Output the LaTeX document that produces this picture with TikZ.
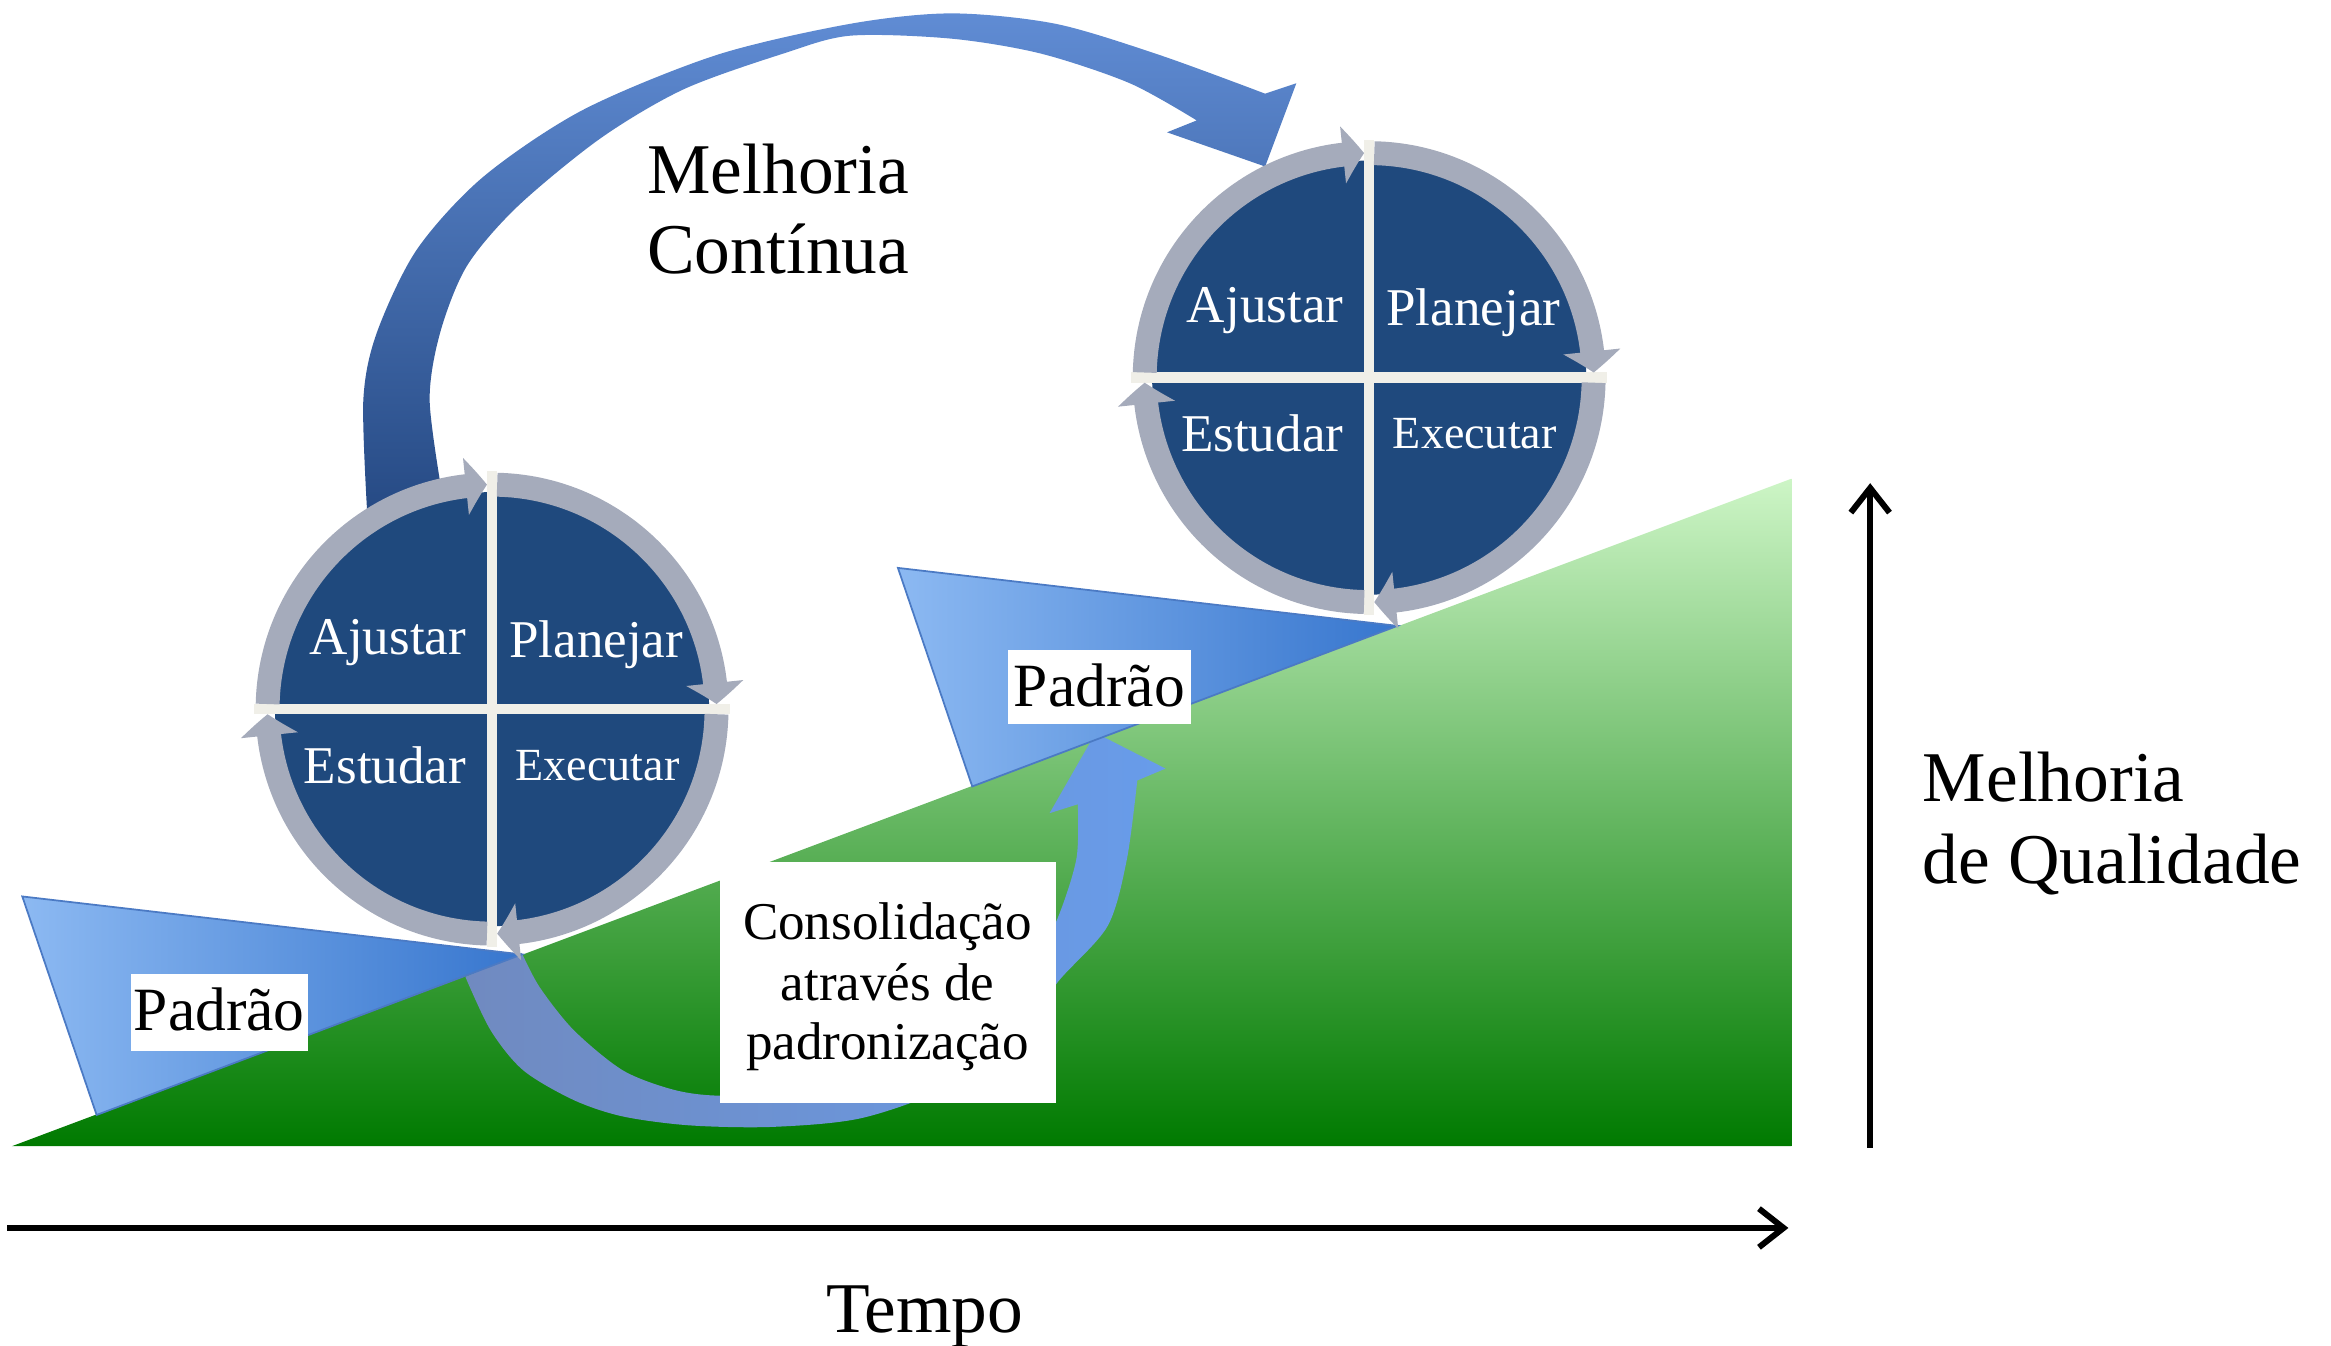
\documentclass[tikz,border=0pt]{standalone}
\usepackage{fontspec}
\setmainfont{Liberation Serif}
\usetikzlibrary{arrows.meta,bending}
\definecolor{pdcablue}{RGB}{31,73,125}
\definecolor{ringgray}{RGB}{165,171,187}
\definecolor{crosscol}{RGB}{240,239,232}
\definecolor{greentop}{RGB}{205,245,198}
\definecolor{greenmid}{RGB}{80,178,80}
\definecolor{greenbot}{RGB}{0,122,0}
\definecolor{arrtop}{RGB}{96,140,212}
\definecolor{arrmid}{RGB}{66,110,180}
\definecolor{arrbot}{RGB}{38,74,132}
\definecolor{padleft}{RGB}{140,185,242}
\definecolor{padright}{RGB}{55,118,206}
\definecolor{padedge}{RGB}{75,122,196}
\definecolor{consleft}{RGB}{112,138,192}
\definecolor{consright}{RGB}{104,156,234}
\tikzset{
  ringarc/.style={draw=ringgray, line width=6.8pt, -{Triangle[length=6pt,width=16pt,bend]}},
  crossline/.style={draw=crosscol, line width=3pt},
  wheeltext/.style={text=white, inner sep=0pt, font=\fontsize{15.1}{18}\selectfont, anchor=base},
  smallwheeltext/.style={text=white, inner sep=0pt, font=\fontsize{13.1}{16}\selectfont, anchor=base},
  bigtext/.style={inner sep=0pt, font=\fontsize{20.3}{24}\selectfont, anchor=base west},
  centertext/.style={inner sep=0pt, font=\fontsize{20.3}{24}\selectfont, anchor=base},
  boxtext/.style={inner sep=0pt, font=\fontsize{15.1}{18}\selectfont, anchor=base},
  padtext/.style={inner sep=0pt, font=\fontsize{17.5}{20}\selectfont, anchor=base},
  axisarrow/.style={line width=1.7pt, -{Straight Barb[length=7pt,width=11pt]}},
  padtri/.style={left color=padleft, right color=padright, draw=padedge, line width=0.5pt},
}
\newcommand{\pdcawheel}[3]{%
  \begin{scope}[shift={(#1,#2)}]
    \fill[pdcablue] (0,0) circle[radius=146];
    \draw[crossline] (0,-160) -- (0,160);
    \draw[crossline] (-160,0) -- (160,0);
    \draw[ringarc] (178.7:151) arc[start angle=178.7, end angle=91.3, radius=151];
    \draw[ringarc] (88.7:151) arc[start angle=88.7, end angle=1.3, radius=151];
    \draw[ringarc] (-1.3:151) arc[start angle=-1.3, end angle=-88.7, radius=151];
    \draw[ringarc] (-91.3:151) arc[start angle=-91.3, end angle=-178.7, radius=151];
    \node[wheeltext] (#3aj) at (-70,37) {Ajustar};
    \node[wheeltext] (#3pl) at (70,35) {Planejar};
    \node[wheeltext] (#3es) at (-72,-50) {Estudar};
    \node[smallwheeltext] (#3ex) at (71,-48) {Executar};
  \end{scope}}
\begin{document}
\begin{tikzpicture}[x=0.014866cm, y=0.014866cm]
\useasboundingbox (0,0) rectangle (1568,-905.4);
% green ramp
\shade[top color=greentop, middle color=greenmid, bottom color=greenbot]
  (8,-771) -- (1205,-771) -- (1205,-322) -- cycle;
% consolidation arrow
\shade[left color=consleft, right color=consright]
  (351,-641) -- (313,-657)
  -- plot[smooth] coordinates {(313,-657) (330,-693) (352,-720) (386,-740) (419,-751) (464,-757) (520,-758) (580,-752) (640,-730) (690,-692) (712,-660) (745,-623) (758,-578) (765,-525)}
  -- (784,-517) -- (737,-493) -- (706,-547) -- (725,-541)
  -- plot[smooth] coordinates {(725,-541) (724,-578) (710,-621) (688,-660) (650,-695) (590,-722) (530,-735) (483,-737) (453,-733) (419,-720) (386,-693) (363,-664) (351,-641)}
  -- cycle;
% Padrao triangles
\shadedraw[padtri] (15,-603) -- (351,-642) -- (65,-750) -- cycle;
\shadedraw[padtri] (604,-382) -- (940,-421) -- (654,-529) -- cycle;
% continuous improvement arrow
\shade[top color=arrtop, middle color=arrmid, bottom color=arrbot]
  plot[smooth] coordinates {(247,-345) (244.4,-269) (253.4,-224) (280.3,-168) (325,-119) (392,-74) (482,-37) (572,-16) (640,-9) (710,-16) (780,-37) (851,-63)}
  -- (872,-56) -- (851,-112) -- (785,-89) -- (805,-81)
  -- plot[smooth] coordinates {(805,-81) (760,-56) (700,-36) (640,-26) (572,-24) (527,-36) (460,-60) (404,-93) (348,-139) (314,-179) (296,-224) (289,-269) (297,-330)}
  -- cycle;
% PDCA wheels
\pdcawheel{331}{-477}{L}
\pdcawheel{921}{-254}{R}
% text boxes
\fill[white] (484,-580) rectangle (710,-742);
\node[boxtext] (cons1) at (597,-632) {Consolidação};
\node[boxtext] (cons2) at (597,-673) {através de};
\node[boxtext] (cons3) at (597,-713) {padronização};
\fill[white] (88,-655) rectangle (207,-707);
\node[padtext] (padL) at (147.5,-693) {Padrão};
\fill[white] (678,-437) rectangle (801,-487);
\node[padtext] (padR) at (739.5,-475) {Padrão};
% labels
\node[bigtext] (mc1) at (435,-130) {Melhoria};
\node[bigtext] (mc2) at (435,-184) {Contínua};
\node[bigtext] (mq1) at (1293,-539) {Melhoria};
\node[bigtext] (mq2) at (1293,-594) {de Qualidade};
\node[centertext] (tempo) at (622,-896) {Tempo};
% axes
\coordinate (xstart) at (5,-826);
\coordinate (xend) at (1203,-826);
\draw[axisarrow] (xstart) -- (xend);
\coordinate (ystart) at (1258,-772);
\coordinate (yend) at (1258,-325);
\draw[axisarrow] (ystart) -- (yend);
\end{tikzpicture}
\end{document}
